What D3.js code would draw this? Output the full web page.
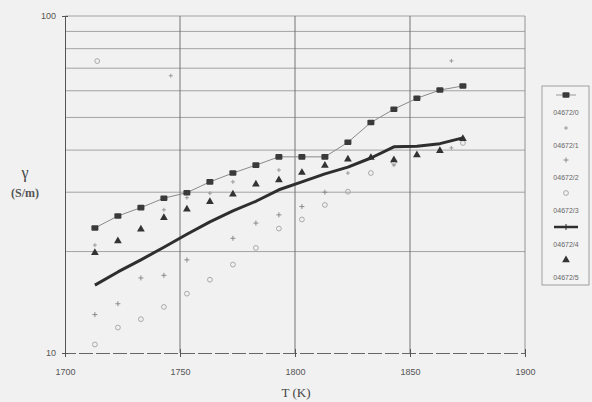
<!DOCTYPE html>
<html><head><meta charset="utf-8">
<script src="https://cdn.jsdelivr.net/npm/d3@7"></script>
<style>body{margin:0;background:#f1f1f1}svg{display:block}</style>
</head><body>
<svg id="c" width="592" height="402"></svg>
<script>
// ---- data ----
const temps = [1713,1723,1733,1743,1753,1763,1773,1783,1793,1803,1813,1823,1833,1843,1853,1863,1873];
const s0 = [23.5,25.5,27.0,28.8,29.9,32.2,34.2,36.1,38.2,38.2,38.2,42.2,48.3,52.9,57.0,60.3,62.0];
const s4 = [15.9,17.4,18.9,20.6,22.5,24.5,26.4,28.2,30.5,32.2,34.0,35.6,37.9,40.9,41.1,41.8,43.5];
const s5 = [19.85,21.5,23.3,25.2,26.7,28.1,29.6,31.7,32.6,34.3,36.0,37.6,38.0,37.4,38.7,39.8,43.2];
const s1T = [1713,1743,1746,1753,1763,1773,1793,1823,1843,1868,1868];
const s1 = [20.9,26.6,66.5,28.9,29.8,32.2,34.9,34.2,36.1,40.6,73.6];
const s2T = [1713,1723,1733,1743,1753,1773,1783,1793,1803,1813];
const s2 = [13.0,14.0,16.7,17.0,18.9,21.9,24.3,25.7,27.2,30.0];
const s3T = [1713,1714,1723,1733,1743,1753,1763,1773,1783,1793,1803,1813,1823,1833,1843,1873];
const s3 = [10.6,73.5,11.9,12.6,13.7,15.0,16.5,18.3,20.5,23.4,24.9,27.5,30.1,34.2,36.8,42.0];
const seriesNames = ["04672/0","04672/1","04672/2","04672/3","04672/4","04672/5"];
const xTicks = [1700,1750,1800,1850,1900];
const yGrid = [20,30,40,50,60,70,80,90,100];
const yTickLabels = [10,100];

// ---- layout ----
const svg = d3.select("#c");
const L=65,R=525,T=16,B=353;
const x = d3.scaleLinear().domain([1700,1900]).range([L,R]);
const y = d3.scaleLog().domain([10,100]).range([B,T]);

svg.append("rect").attr("width",592).attr("height",402).attr("fill","#f1f1f1");

// gridlines
svg.append("g").selectAll("line").data(yGrid).join("line")
  .attr("x1",L).attr("x2",R).attr("y1",d=>y(d)).attr("y2",d=>y(d))
  .attr("stroke","#8f8f8f").attr("stroke-width",0.8);
svg.append("g").selectAll("line").data(xTicks.slice(1,-1)).join("line")
  .attr("x1",d=>x(d)).attr("x2",d=>x(d)).attr("y1",T).attr("y2",B)
  .attr("stroke","#666").attr("stroke-width",0.9);
svg.append("line").attr("x1",R).attr("x2",R).attr("y1",T).attr("y2",B).attr("stroke","#8a8a8a").attr("stroke-width",0.9);

// axes
const xAxis = d3.axisBottom(x).tickValues(xTicks).tickSize(4).tickPadding(12).tickFormat(d3.format("d"));
const gx = svg.append("g").attr("transform",`translate(0,${B})`).call(xAxis);
gx.select(".domain").attr("stroke","#666").attr("stroke-dasharray","14,3");
gx.selectAll(".tick line").attr("stroke","#555").attr("y1",-4);
gx.selectAll("text").attr("font-family","Arial, Liberation Sans, sans-serif").attr("font-size",9).attr("fill","#555");
const yAxis = d3.axisLeft(y).tickValues(yTickLabels).tickSize(3).tickPadding(6).tickFormat(d3.format("d"));
const gy = svg.append("g").attr("transform",`translate(${L},0)`).call(yAxis);
gy.select(".domain").attr("stroke","#555");
gy.selectAll(".tick line").attr("stroke","#555").attr("x2",3).attr("x1",-3);
gy.selectAll("text").attr("font-family","Arial, Liberation Sans, sans-serif").attr("font-size",9).attr("fill","#555");

// axis titles
svg.append("text").attr("x",25).attr("y",178).attr("text-anchor","middle")
  .attr("font-family","Liberation Serif, serif").attr("font-size",16).attr("fill","#444").text("γ");
svg.append("text").attr("x",25).attr("y",197).attr("text-anchor","middle")
  .attr("font-family","Liberation Serif, serif").attr("font-weight","bold").attr("font-size",12).attr("fill","#555").text("(S/m)");
svg.append("text").attr("x",296).attr("y",397).attr("text-anchor","middle")
  .attr("font-family","Liberation Serif, serif").attr("font-size",13).attr("fill","#444").text("T (K)");

// marker helpers
function square(g,cx,cy,c){g.append("rect").attr("x",cx-3.5).attr("y",cy-2.8).attr("width",7).attr("height",5.6).attr("rx",1).attr("fill",c);}
function tri(g,cx,cy,c){g.append("path").attr("d",d3.symbol(d3.symbolTriangle,26)()).attr("transform",`translate(${cx},${cy})`).attr("fill",c);}
function plus(g,cx,cy,c,s){g.append("path").attr("d",`M${cx-s},${cy}H${cx+s}M${cx},${cy-s}V${cy+s}`).attr("stroke",c).attr("stroke-width",1);}
function circ(g,cx,cy,c){g.append("circle").attr("cx",cx).attr("cy",cy).attr("r",2.4).attr("fill","none").attr("stroke",c).attr("stroke-width",0.9);}

const line = d3.line().x(d=>x(d[0])).y(d=>y(d[1]));
const pts = (ts,vs)=>ts.map((t,i)=>[t,vs[i]]);
const g = svg.append("g");

pts(s3T,s3).forEach(p=>circ(g,x(p[0]),y(p[1]),"#a0a0a0"));
pts(s2T,s2).forEach(p=>plus(g,x(p[0]),y(p[1]),"#8a8a8a",2.5));
pts(s1T,s1).forEach(p=>plus(g,x(p[0]),y(p[1]),"#9a9a9a",2));
g.append("path").datum(pts(temps,s0)).attr("d",line).attr("fill","none").attr("stroke","#8a8a8a").attr("stroke-width",1);
pts(temps,s0).forEach(p=>square(g,x(p[0]),y(p[1]),"#3a3a3a"));
pts(temps,s5).forEach(p=>tri(g,x(p[0]),y(p[1]),"#333"));
g.append("path").datum(pts(temps,s4)).attr("d",line).attr("fill","none").attr("stroke","#2e2e2e").attr("stroke-width",3).attr("stroke-linejoin","round");

// legend
const lg = svg.append("g");
lg.append("rect").attr("x",542).attr("y",86).attr("width",47).attr("height",199).attr("fill","#f3f3f3").attr("stroke","#8a8a8a").attr("stroke-width",0.8);
const lx = 566;
const ly = [95,128,160,193,227,260];
lg.append("line").attr("x1",556).attr("x2",576).attr("y1",ly[0]).attr("y2",ly[0]).attr("stroke","#999");
square(lg,lx,ly[0],"#3a3a3a");
plus(lg,lx,ly[1],"#9a9a9a",2);
plus(lg,lx,ly[2],"#8a8a8a",2.5);
circ(lg,lx,ly[3],"#a0a0a0");
lg.append("line").attr("x1",554).attr("x2",578).attr("y1",ly[4]).attr("y2",ly[4]).attr("stroke","#2e2e2e").attr("stroke-width",2.5);
plus(lg,lx,ly[4],"#2e2e2e",3);
tri(lg,lx,ly[5],"#333");
lg.selectAll("text.lab").data(seriesNames).join("text").attr("class","lab")
  .attr("x",lx).attr("y",(d,i)=>ly[i]+20).attr("text-anchor","middle")
  .attr("font-family","Arial, Liberation Sans, sans-serif").attr("font-size",7).attr("fill","#666").text(d=>d);
</script>
</body></html>
